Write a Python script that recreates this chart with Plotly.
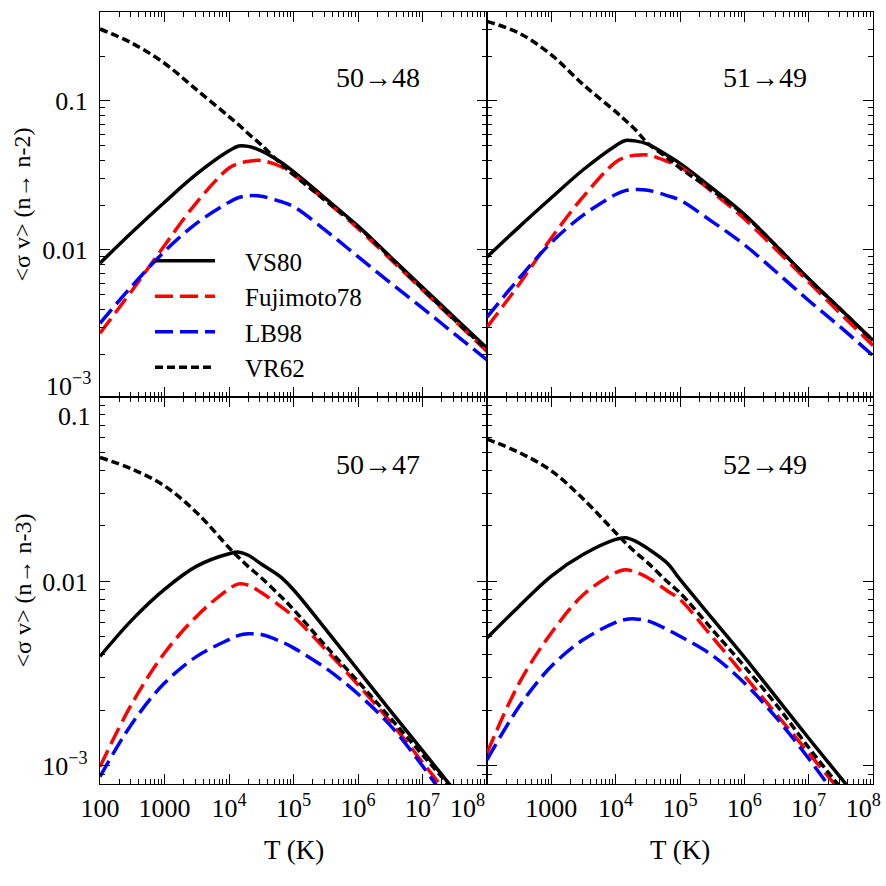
import numpy as np
import plotly.graph_objects as go

# ---------------- data ----------------
# temperature grid, log10(T/K)
log_T = [2, 2.5, 3, 3.5, 4, 4.15, 4.3, 4.5, 4.8, 5, 5.5, 6, 6.5, 7, 7.5, 8]

# log10 <sigma v> for each panel and each data set
# panel 50->48 (n -> n-2)
p5048_vs80 = [-2.089, -1.880, -1.680, -1.490, -1.335, -1.302, -1.305, -1.335, -1.410, -1.475, -1.655, -1.840, -2.045, -2.250, -2.455, -2.660]
p5048_fuj  = [-2.559, -2.270, -1.970, -1.680, -1.450, -1.420, -1.405, -1.400, -1.440, -1.495, -1.670, -1.855, -2.060, -2.268, -2.475, -2.682]
p5048_lb98 = [-2.492, -2.240, -2.010, -1.820, -1.680, -1.648, -1.636, -1.640, -1.675, -1.709, -1.870, -2.045, -2.220, -2.390, -2.565, -2.738]
p5048_vr62 = [-0.517, -0.613, -0.747, -0.926, -1.105, -1.160, -1.220, -1.295, -1.420, -1.495, -1.670, -1.843, -2.050, -2.262, -2.470, -2.671]
# panel 51->49 (n -> n-2)
p5149_vs80 = [-2.047, -1.845, -1.650, -1.460, -1.300, -1.265, -1.268, -1.290, -1.365, -1.419, -1.585, -1.760, -1.975, -2.193, -2.400, -2.608]
p5149_fuj  = [-2.518, -2.230, -1.920, -1.640, -1.410, -1.378, -1.365, -1.363, -1.405, -1.442, -1.610, -1.790, -2.000, -2.215, -2.430, -2.641]
p5149_lb98 = [-2.451, -2.190, -1.950, -1.765, -1.628, -1.602, -1.594, -1.599, -1.635, -1.666, -1.810, -1.965, -2.150, -2.339, -2.520, -2.709]
p5149_vr62 = [-0.466, -0.545, -0.691, -0.892, -1.072, -1.130, -1.190, -1.285, -1.380, -1.450, -1.600, -1.765, -1.975, -2.195, -2.400, -2.610]
# panel 50->47 (n -> n-3)
p5047_vs80 = [-2.406, -2.207, -2.043, -1.917, -1.850, -1.841, -1.858, -1.905, -1.975, -2.045, -2.260, -2.480, -2.700, -2.917, -3.135, -3.350]
p5047_fuj  = [-3.004, -2.659, -2.388, -2.188, -2.040, -2.013, -2.020, -2.060, -2.135, -2.190, -2.370, -2.560, -2.760, -2.980, -3.200, -3.400]
p5047_lb98 = [-3.058, -2.768, -2.551, -2.406, -2.315, -2.292, -2.284, -2.288, -2.325, -2.360, -2.470, -2.610, -2.780, -3.000, -3.250, -3.500]
p5047_vr62 = [-1.328, -1.391, -1.482, -1.627, -1.817, -1.870, -1.920, -1.980, -2.080, -2.152, -2.350, -2.542, -2.740, -2.940, -3.140, -3.340]
# panel 52->49 (n -> n-3)
p5249_vs80 = [-2.306, -2.134, -1.971, -1.853, -1.772, -1.763, -1.780, -1.822, -1.900, -1.989, -2.200, -2.410, -2.630, -2.850, -3.065, -3.280]
p5249_fuj  = [-2.931, -2.551, -2.279, -2.071, -1.952, -1.936, -1.948, -1.980, -2.050, -2.098, -2.300, -2.510, -2.720, -2.930, -3.140, -3.350]
p5249_lb98 = [-2.967, -2.678, -2.460, -2.315, -2.222, -2.206, -2.203, -2.214, -2.260, -2.297, -2.400, -2.550, -2.740, -2.960, -3.200, -3.450]
p5249_vr62 = [-1.228, -1.301, -1.400, -1.554, -1.736, -1.790, -1.840, -1.899, -2.000, -2.062, -2.260, -2.460, -2.670, -2.900, -3.120, -3.330]

series_names = ["VS80", "Fujimoto78", "LB98", "VR62"]
panel_labels = ["50→48", "51→49", "50→47", "52→49"]
x_tick_vals = [1e2, 1e3, 1e4, 1e5, 1e6, 1e7, 1e8]
x_tick_text = ["100", "1000", "10<sup>4</sup>", "10<sup>5</sup>", "10<sup>6</sup>", "10<sup>7</sup>", "10<sup>8</sup>"]
y_tick_vals = [1e-3, 1e-2, 1e-1]

panels = [
    [p5048_vs80, p5048_fuj, p5048_lb98, p5048_vr62],
    [p5149_vs80, p5149_fuj, p5149_lb98, p5149_vr62],
    [p5047_vs80, p5047_fuj, p5047_lb98, p5047_vr62],
    [p5249_vs80, p5249_fuj, p5249_lb98, p5249_vr62],
]

# ---------------- styling ----------------
W = H = 886
FONT = "Liberation Serif, DejaVu Serif, serif"
colors = ["black", "red", "blue", "black"]
dashes = ["solid", "18px,7px", "18px,7px", "8px,4px"]
widths = [3.5, 3.5, 3.5, 3.5]

# pixel geometry of the 2x2 grid
xl, xm, xr = 100, 487, 873
yt, ym, yb = 12, 397, 784
def px(v):
    return v / W
def py(v):
    return 1 - v / H

T = [10 ** v for v in log_T]
fig = go.Figure()
for k, data in enumerate(panels):
    sfx = "" if k == 0 else str(k + 1)
    for j, yv in enumerate(data):
        fig.add_trace(go.Scatter(
            x=T, y=[10 ** v for v in yv], mode="lines",
            name="\u00a0\u00a0\u00a0\u00a0" + series_names[j],
            legendgroup=series_names[j], showlegend=(k == 0),
            line=dict(color=colors[j], width=widths[j], dash=dashes[j], shape="spline", smoothing=1.0),
            xaxis="x" + sfx, yaxis="y" + sfx, hoverinfo="skip"))

minor_x = [m * 10 ** d for d in range(2, 8) for m in range(2, 10)]
minor_y = [m * 10 ** d for d in range(-4, 0) for m in range(2, 10)]
tickfont = dict(family=FONT, size=26, color="black")

def axis_common():
    return dict(type="log", showline=True, linecolor="black", linewidth=1.3,
                mirror="allticks", ticks="inside", ticklen=10, tickwidth=1.3,
                tickcolor="black", showgrid=False, zeroline=False,
                tickfont=tickfont, automargin=False, tickangle=0,
                ticklabeloverflow="allow",
                minor=dict(ticks="inside", ticklen=5, tickwidth=1.1, tickcolor="black", showgrid=False))

domains_x = [[px(xl), px(xm)], [px(xm), px(xr)], [px(xl), px(xm)], [px(xm), px(xr)]]
domains_y = [[py(ym), py(yt)], [py(ym), py(yt)], [py(yb), py(ym)], [py(yb), py(ym)]]
yranges = [[-2.987, -0.403], [-2.987, -0.403], [-3.098, -1.0], [-3.098, -1.0]]

layout = dict(width=W, height=H, margin=dict(l=0, r=0, t=0, b=0, autoexpand=False),
              paper_bgcolor="white", plot_bgcolor="white", showlegend=True)
for k in range(4):
    sfx = "" if k == 0 else str(k + 1)
    xa = axis_common()
    xa.update(domain=domains_x[k], range=[2, 8], anchor="y" + sfx,
              tickvals=x_tick_vals, ticklabelstandoff=1)
    xa["minor"]["tickvals"] = minor_x
    if k < 2:
        xa.update(showticklabels=False)
    elif k == 2:
        xt = list(x_tick_text)
        xt[-1] = xt[-1] + "\u00a0" * 6
        xa.update(ticktext=xt)
    else:
        xt = list(x_tick_text)
        xt[0] = ""
        xt[-1] = xt[-1] + "\u00a0" * 3
        xa.update(ticktext=xt)
    ya = axis_common()
    ya.update(domain=domains_y[k], range=yranges[k], anchor="x" + sfx,
              tickvals=y_tick_vals, ticklabelstandoff=6)
    ya["minor"]["tickvals"] = minor_y
    if k == 0:
        ya.update(ticktext=["", "0.01", "0.1"])
    elif k == 2:
        ya.update(ticktext=["10<sup>\u22123</sup>", "0.01", ""])
    else:
        ya.update(showticklabels=False)
    layout["xaxis" + sfx] = xa
    layout["yaxis" + sfx] = ya

annotations = []
# panel labels
lab_pos = [(378, 77), (765, 77), (378, 464), (765, 464)]
for k, (ax_, ay_) in enumerate(lab_pos):
    annotations.append(dict(text=panel_labels[k], x=px(ax_), y=py(ay_), xref="paper", yref="paper",
                            showarrow=False, xanchor="center", yanchor="middle",
                            font=dict(family=FONT, size=28, color="black")))
# edge tick labels moved off the shared border
annotations.append(dict(text="10<sup>\u22123</sup>", x=px(93), y=py(384), xref="paper", yref="paper",
                        showarrow=False, xanchor="right", yanchor="middle", font=tickfont))
annotations.append(dict(text="0.1", x=px(93), y=py(416), xref="paper", yref="paper",
                        showarrow=False, xanchor="right", yanchor="middle", font=tickfont))
# axis titles
for yc, t in [((yt + ym) / 2, "<σ v> (n→ n-2)"), ((ym + yb) / 2, "<σ v> (n→ n-3)")]:
    annotations.append(dict(text=t.replace("<", "&lt;").replace(">", "&gt;"), x=px(22), y=py(yc),
                            xref="paper", yref="paper", showarrow=False, textangle=-90,
                            xanchor="center", yanchor="middle",
                            font=dict(family=FONT, size=24, color="black")))
for xc in [(xl + xm) / 2, (xm + xr) / 2]:
    annotations.append(dict(text="T (K)", x=px(xc), y=py(850), xref="paper", yref="paper",
                            showarrow=False, xanchor="center", yanchor="middle",
                            font=dict(family=FONT, size=27, color="black")))
layout["annotations"] = annotations
layout["legend"] = dict(x=px(150), y=py(238), xanchor="left", yanchor="top",
                        bgcolor="rgba(0,0,0,0)", borderwidth=0, itemwidth=60,
                        font=dict(family=FONT, size=25, color="black"), tracegroupgap=0)
fig.update_layout(**layout)
fig.write_html("out.html")
